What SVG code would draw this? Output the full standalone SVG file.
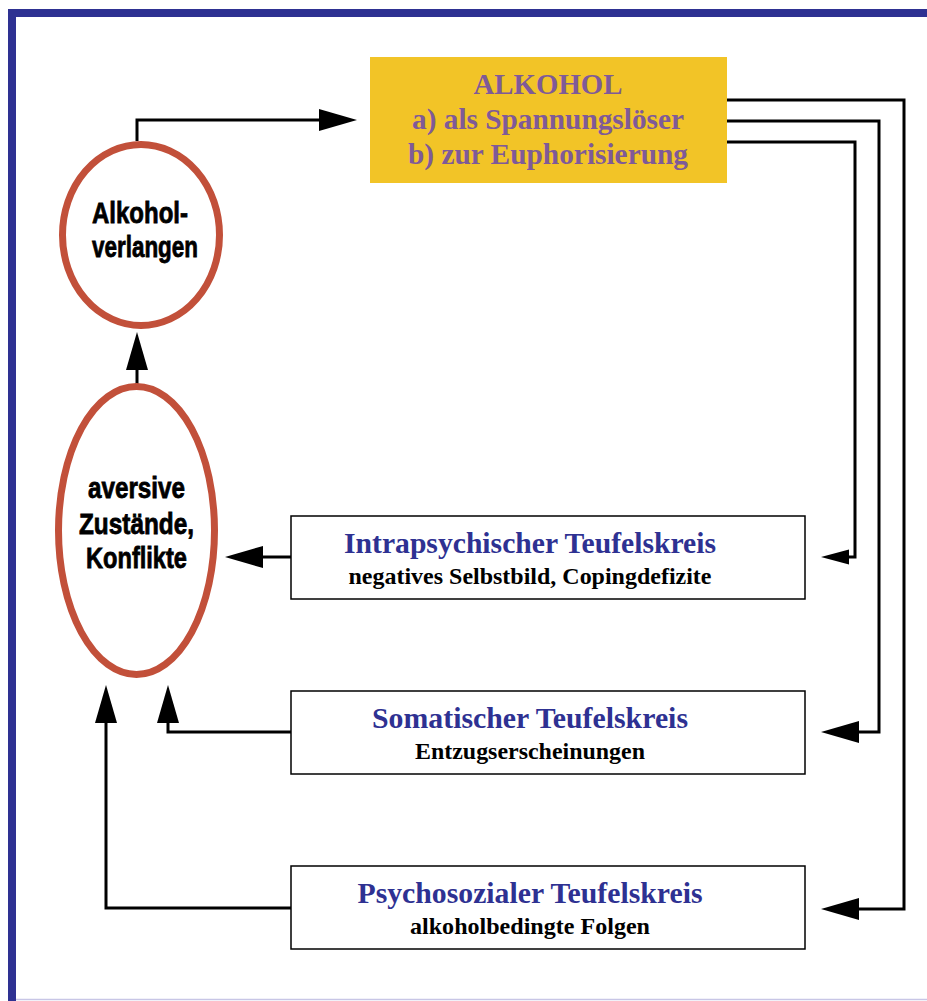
<svg xmlns="http://www.w3.org/2000/svg" width="927" height="1001" viewBox="0 0 927 1001">
<defs>
<style>
.frame{fill:#2e3192}
.ell{fill:#fff;stroke:#c2503a;stroke-width:7}
.etxt{font-family:"Liberation Sans",Arial,sans-serif;font-weight:bold;font-size:30px;fill:#000;stroke:#000;stroke-width:0.8;text-anchor:middle}
.box{fill:#fff;stroke:#000;stroke-width:1.5}
.head{font-family:"Liberation Serif","Times New Roman",serif;font-weight:bold;font-size:29px;fill:#2e3192;text-anchor:middle}
.sub{font-family:"Liberation Serif","Times New Roman",serif;font-weight:bold;font-size:23px;fill:#000;text-anchor:middle}
.alk{font-family:"Liberation Serif","Times New Roman",serif;font-weight:bold;font-size:29px;fill:#7f5a98;text-anchor:middle}
.con{fill:none;stroke:#000;stroke-width:3}
</style>
<marker id="ah" markerUnits="userSpaceOnUse" markerWidth="38" markerHeight="22" refX="0" refY="11" orient="auto" overflow="visible">
<path d="M0,0 L38,11 L0,22 z" fill="#000"/>
</marker>
<marker id="ahs" markerUnits="userSpaceOnUse" markerWidth="28" markerHeight="16" refX="0" refY="8" orient="auto" overflow="visible">
<path d="M0,0.5 L28,8 L0,15.5 z" fill="#000"/>
</marker>
</defs>
<rect width="927" height="1001" fill="#fff"/>
<g id="frame">
<rect class="frame" x="8" y="9" width="919" height="8"/>
<rect class="frame" x="8" y="9" width="8" height="992"/>
<line x1="16" y1="999.5" x2="927" y2="999.5" stroke="#c8c6e6" stroke-width="1.5"/>
</g>
<g id="connectors">
<path class="con" d="M137,141 V120 H319" marker-end="url(#ah)"/>
<path class="con" d="M137,384 V370" marker-end="url(#ah)"/>
<path class="con" d="M727,100 H904 V909 H859" marker-end="url(#ah)"/>
<path class="con" d="M727,121 H879 V732 H859" marker-end="url(#ah)"/>
<path class="con" d="M727,142 H855 V557 H849" marker-end="url(#ahs)"/>
<path class="con" d="M291,557 H263" marker-end="url(#ah)"/>
<path class="con" d="M291,732 H168 V723" marker-end="url(#ah)"/>
<path class="con" d="M291,908 H106 V723" marker-end="url(#ah)"/>
</g>
<g id="alkohol">
<rect x="370" y="57" width="357" height="126" fill="#f2c427"/>
<text class="alk" x="548" y="94" textLength="149" lengthAdjust="spacingAndGlyphs">ALKOHOL</text>
<text class="alk" x="548" y="129" textLength="272" lengthAdjust="spacingAndGlyphs">a) als Spannungslöser</text>
<text class="alk" x="548" y="164" textLength="280" lengthAdjust="spacingAndGlyphs">b) zur Euphorisierung</text>
</g>
<g id="verlangen">
<ellipse class="ell" cx="141" cy="235" rx="78.5" ry="90.5"/>
<text class="etxt" x="140" y="223" textLength="96" lengthAdjust="spacingAndGlyphs">Alkohol-</text>
<text class="etxt" x="145" y="257" textLength="106" lengthAdjust="spacingAndGlyphs">verlangen</text>
</g>
<g id="aversiv">
<ellipse class="ell" cx="136.5" cy="530.5" rx="78" ry="144"/>
<text class="etxt" x="136.5" y="498" textLength="97" lengthAdjust="spacingAndGlyphs">aversive</text>
<text class="etxt" x="136.5" y="534" textLength="115" lengthAdjust="spacingAndGlyphs">Zustände,</text>
<text class="etxt" x="136.5" y="568" textLength="101" lengthAdjust="spacingAndGlyphs">Konflikte</text>
</g>
<g id="intrapsychisch">
<rect class="box" x="291" y="516" width="514" height="83"/>
<text class="head" x="530" y="553" textLength="372" lengthAdjust="spacingAndGlyphs">Intrapsychischer Teufelskreis</text>
<text class="sub" x="530" y="584" textLength="363" lengthAdjust="spacingAndGlyphs">negatives Selbstbild, Copingdefizite</text>
</g>
<g id="somatisch">
<rect class="box" x="291" y="691" width="514" height="83"/>
<text class="head" x="530" y="728" textLength="316" lengthAdjust="spacingAndGlyphs">Somatischer Teufelskreis</text>
<text class="sub" x="530" y="759" textLength="230" lengthAdjust="spacingAndGlyphs">Entzugserscheinungen</text>
</g>
<g id="psychosozial">
<rect class="box" x="291" y="866" width="514" height="83"/>
<text class="head" x="530" y="903" textLength="345" lengthAdjust="spacingAndGlyphs">Psychosozialer Teufelskreis</text>
<text class="sub" x="530" y="934" textLength="240" lengthAdjust="spacingAndGlyphs">alkoholbedingte Folgen</text>
</g>
</svg>
